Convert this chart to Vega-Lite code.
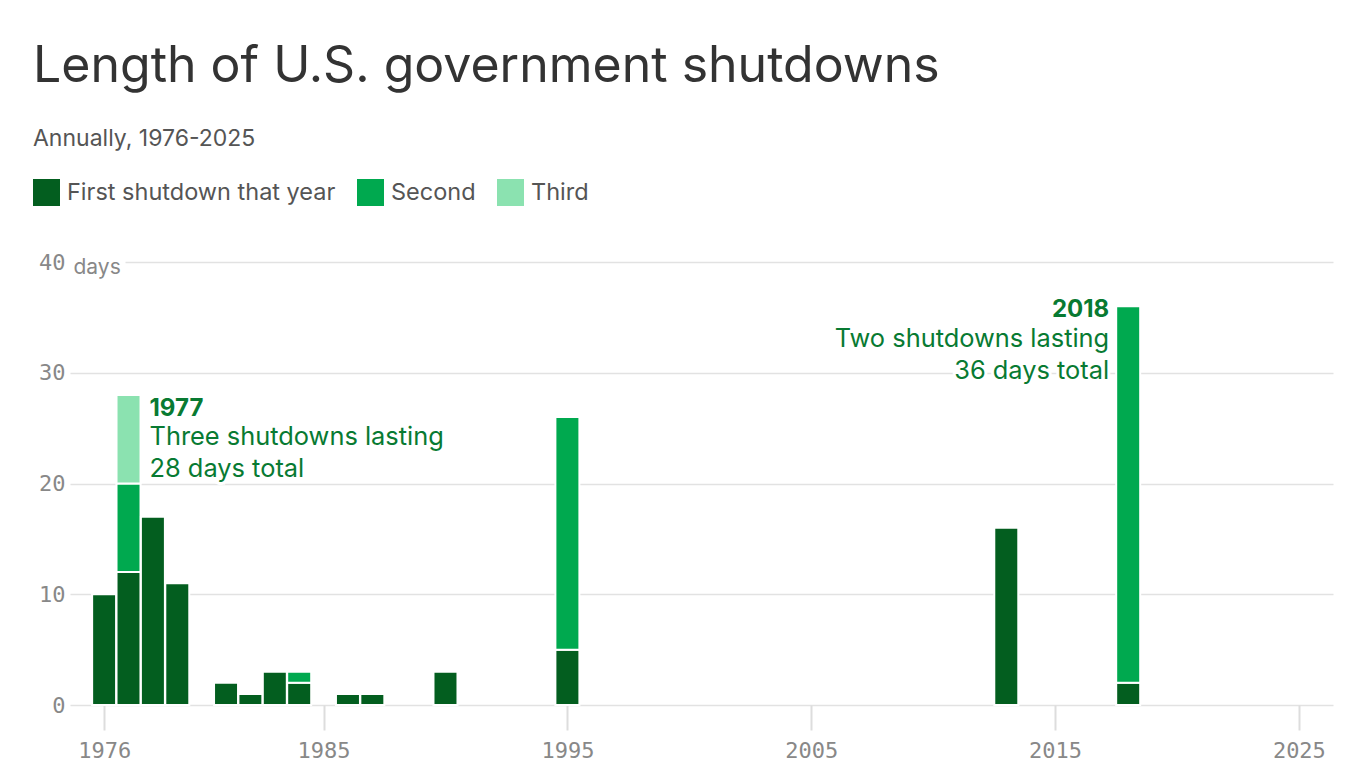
{
  "$schema": "https://vega.github.io/schema/vega-lite/v6.json",
  "width": 1263,
  "height": 443,
  "autosize": "none",
  "padding": {"left": 70, "top": 262, "right": 33, "bottom": 63},
  "background": "white",
  "title": {
    "text": "Length of U.S. government shutdowns",
    "subtitle": "Annually, 1976-2025",
    "anchor": "start",
    "frame": "group",
    "dx": -37,
    "offset": 28,
    "font": "Inter",
    "fontSize": 50,
    "fontWeight": 400,
    "color": "#333333",
    "subtitleFont": "Inter",
    "subtitleFontSize": 23,
    "subtitleColor": "#555555",
    "subtitlePadding": 36
  },
  "config": {
    "view": {"stroke": null},
    "axis": {"labelFont": "DejaVu Sans Mono", "labelFontSize": 22, "labelColor": "#888888"}
  },
  "layer": [
    {
      "data": {
        "values": [
          {"year": 1976, "n": 1, "type": "First shutdown that year", "days": 10},
          {"year": 1977, "n": 1, "type": "First shutdown that year", "days": 12},
          {"year": 1977, "n": 2, "type": "Second", "days": 8},
          {"year": 1977, "n": 3, "type": "Third", "days": 8},
          {"year": 1978, "n": 1, "type": "First shutdown that year", "days": 17},
          {"year": 1979, "n": 1, "type": "First shutdown that year", "days": 11},
          {"year": 1981, "n": 1, "type": "First shutdown that year", "days": 2},
          {"year": 1982, "n": 1, "type": "First shutdown that year", "days": 1},
          {"year": 1983, "n": 1, "type": "First shutdown that year", "days": 3},
          {"year": 1984, "n": 1, "type": "First shutdown that year", "days": 2},
          {"year": 1984, "n": 2, "type": "Second", "days": 1},
          {"year": 1986, "n": 1, "type": "First shutdown that year", "days": 1},
          {"year": 1987, "n": 1, "type": "First shutdown that year", "days": 1},
          {"year": 1990, "n": 1, "type": "First shutdown that year", "days": 3},
          {"year": 1995, "n": 1, "type": "First shutdown that year", "days": 5},
          {"year": 1995, "n": 2, "type": "Second", "days": 21},
          {"year": 2013, "n": 1, "type": "First shutdown that year", "days": 16},
          {"year": 2018, "n": 1, "type": "First shutdown that year", "days": 2},
          {"year": 2018, "n": 2, "type": "Second", "days": 34}
        ]
      },
      "mark": {"type": "bar", "width": 24, "stroke": "white", "strokeWidth": 2},
      "encoding": {
        "x": {
          "field": "year",
          "type": "quantitative",
          "scale": {"domain": [1974.6, 2026.4], "nice": false, "zero": false, "padding": 0},
          "axis": {
            "title": null,
            "values": [1976, 1985, 1995, 2005, 2015, 2025],
            "format": "d",
            "grid": false,
            "domain": false,
            "ticks": true,
            "tickSize": 25,
            "tickColor": "#dddddd",
            "tickWidth": 2,
            "labelPadding": 10
          }
        },
        "y": {
          "field": "days",
          "type": "quantitative",
          "stack": "zero",
          "scale": {"domain": [0, 40], "nice": false, "padding": 0},
          "axis": {
            "title": "days",
            "titleAngle": 0,
            "titleX": 3,
            "titleY": 5,
            "titleAlign": "left",
            "titleBaseline": "middle",
            "titleFont": "Inter",
            "titleFontSize": 21,
            "titleFontWeight": 400,
            "titleColor": "#888888",
            "values": [0, 10, 20, 30, 40],
            "domain": false,
            "ticks": false,
            "labelPadding": 5,
            "labelBaseline": "middle",
            "grid": true,
            "gridColor": "#e2e2e2",
            "gridWidth": 1.5,
            "gridDash": {"condition": {"test": "datum.value === 40", "value": [0, 55, 2000]}, "value": []}
          }
        },
        "order": {"field": "n", "type": "quantitative", "sort": "ascending"},
        "color": {
          "field": "type",
          "type": "nominal",
          "scale": {
            "domain": ["First shutdown that year", "Second", "Third"],
            "range": ["#035e1f", "#00a94f", "#8be2b0"]
          },
          "legend": {
            "title": null,
            "orient": "none",
            "legendX": -37,
            "legendY": -83,
            "direction": "horizontal",
            "symbolType": "square",
            "symbolSize": 729,
            "symbolStrokeWidth": 0,
            "symbolOpacity": 1,
            "labelFont": "Inter",
            "labelFontSize": 23.5,
            "labelColor": "#555555",
            "labelLimit": 0,
            "labelOffset": 7,
            "columnPadding": 21
          }
        }
      }
    },
    {
      "data": {"values": [{"year": 1977, "total": 28, "head": "1977", "body": "Three shutdowns lasting\n28 days total"}]},
      "layer": [
        {
          "mark": {"type": "text", "align": "left", "baseline": "alphabetic", "dx": 21, "dy": 50, "font": "Inter", "fontSize": 25.4, "lineHeight": 32, "lineBreak": "\n", "stroke": "white", "strokeWidth": 6, "fill": "white"},
          "encoding": {"x": {"field": "year", "type": "quantitative"}, "y": {"field": "total", "type": "quantitative"}, "text": {"field": "body"}}
        },
        {
          "mark": {"type": "text", "align": "left", "baseline": "alphabetic", "dx": 21, "dy": 50, "font": "Inter", "fontSize": 25.4, "lineHeight": 32, "lineBreak": "\n", "fill": "#087a32"},
          "encoding": {"x": {"field": "year", "type": "quantitative"}, "y": {"field": "total", "type": "quantitative"}, "text": {"field": "body"}}
        },
        {
          "mark": {"type": "text", "align": "left", "baseline": "alphabetic", "dx": 21, "dy": 21, "font": "Inter", "fontSize": 24, "fontWeight": 700, "fill": "#087a32"},
          "encoding": {"x": {"field": "year", "type": "quantitative"}, "y": {"field": "total", "type": "quantitative"}, "text": {"field": "head"}}
        }
      ]
    },
    {
      "data": {"values": [{"year": 2018, "total": 36, "head": "2018", "body": "Two shutdowns lasting\n36 days total"}]},
      "layer": [
        {
          "mark": {"type": "text", "align": "right", "baseline": "alphabetic", "dx": -19, "dy": 41, "font": "Inter", "fontSize": 25.4, "lineHeight": 32, "lineBreak": "\n", "stroke": "white", "strokeWidth": 6, "fill": "white"},
          "encoding": {"x": {"field": "year", "type": "quantitative"}, "y": {"field": "total", "type": "quantitative"}, "text": {"field": "body"}}
        },
        {
          "mark": {"type": "text", "align": "right", "baseline": "alphabetic", "dx": -19, "dy": 41, "font": "Inter", "fontSize": 25.4, "lineHeight": 32, "lineBreak": "\n", "fill": "#087a32"},
          "encoding": {"x": {"field": "year", "type": "quantitative"}, "y": {"field": "total", "type": "quantitative"}, "text": {"field": "body"}}
        },
        {
          "mark": {"type": "text", "align": "right", "baseline": "alphabetic", "dx": -19, "dy": 11, "font": "Inter", "fontSize": 24, "fontWeight": 700, "fill": "#087a32"},
          "encoding": {"x": {"field": "year", "type": "quantitative"}, "y": {"field": "total", "type": "quantitative"}, "text": {"field": "head"}}
        }
      ]
    }
  ]
}
